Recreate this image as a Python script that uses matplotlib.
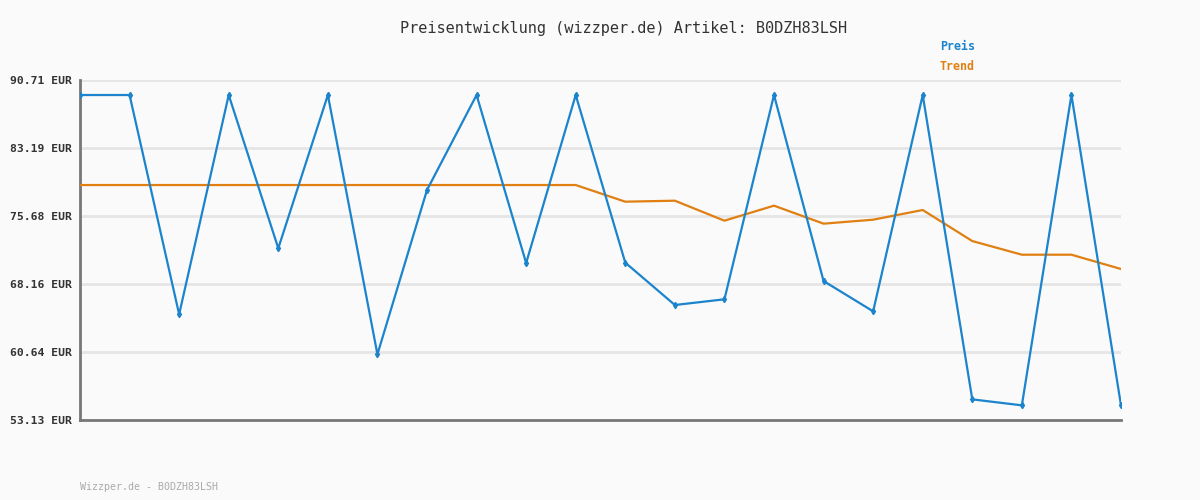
import matplotlib.pyplot as plt
import numpy as np

# price history
preis = [89.05, 89.05, 64.81, 89.05, 72.11, 89.05, 60.39, 78.55, 89.05, 70.48, 89.05,
         70.52, 65.84, 66.47, 89.05, 68.49, 65.14, 89.05, 55.41, 54.75, 89.05, 54.75]
trend = [79.10, 79.10, 79.10, 79.10, 79.10, 79.10, 79.10, 79.10, 79.10, 79.10, 79.10,
         77.26, 77.37, 75.16, 76.82, 74.83, 75.27, 76.34, 72.91, 71.40, 71.40, 69.82]
y_ticks = [53.13, 60.64, 68.16, 75.68, 83.19, 90.71]

title = "Preisentwicklung (wizzper.de) Artikel: B0DZH83LSH"
footer = "Wizzper.de - B0DZH83LSH"

blue = "#1b84cc"
orange = "#e07f12"
bg = "#fafafa"
mono = "DejaVu Sans Mono"

fig = plt.figure(figsize=(12, 5), dpi=100, facecolor=bg)
ax = fig.add_axes([80 / 1200, 80 / 500, 1041 / 1200, 340 / 500], facecolor=bg)

x = np.arange(len(preis))
ax.plot(x, trend, color=orange, lw=1.6, zorder=3)
ax.plot(x, preis, color=blue, lw=1.6, marker="d", ms=3.2, mec=blue, mfc=blue, zorder=4)

ax.set_xlim(0, len(preis) - 1)
ax.set_ylim(y_ticks[0], y_ticks[-1])
ax.set_yticks(y_ticks)
ax.set_yticklabels([f"{v:.2f} EUR" for v in y_ticks], fontfamily=mono, fontsize=8.2,
                   fontweight="bold", color="#333333")
ax.set_xticks([])
ax.tick_params(axis="y", length=0, pad=6)
ax.grid(axis="y", color="#e5e5e5", lw=2)
ax.set_axisbelow(True)

for side in ["top", "right"]:
    ax.spines[side].set_visible(False)
for side in ["left", "bottom"]:
    ax.spines[side].set_color("#777777")
    ax.spines[side].set_linewidth(2)

fig.text(624 / 1200, 1 - 28 / 500, title, ha="center", va="center", fontfamily=mono,
         fontsize=11, color="#333333")
fig.text(940 / 1200, 1 - 47 / 500, "Preis", ha="left", va="center", fontfamily=mono,
         fontsize=8.4, fontweight="bold", color=blue)
fig.text(940 / 1200, 1 - 67 / 500, "Trend", ha="left", va="center", fontfamily=mono,
         fontsize=8.4, fontweight="bold", color=orange)
fig.text(80 / 1200, 1 - 487 / 500, footer, ha="left", va="center", fontfamily=mono,
         fontsize=7.2, color="#aaaaaa")

fig.savefig("out.png", dpi=100, facecolor=bg)
